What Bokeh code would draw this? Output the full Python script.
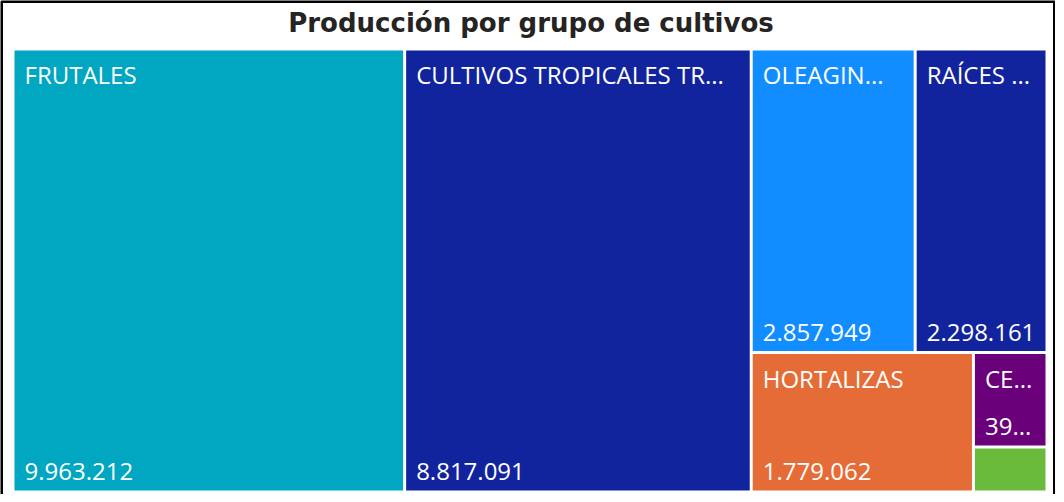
from bokeh.plotting import figure
from bokeh.models import Range1d, ColumnDataSource
from bokeh.core.properties import value
from bokeh.embed import file_html
from bokeh.resources import INLINE

# ---------------- data ----------------
categories = ["FRUTALES", "CULTIVOS TROPICALES TRADICIONALES", "OLEAGINOSAS",
              "RAÍCES Y TUBÉRCULOS", "HORTALIZAS", "CEREALES", "LEGUMINOSAS"]
production = [9963212, 8817091, 2857949, 2298161, 1779062, 399000, 190000]
shown_names = ["FRUTALES", "CULTIVOS TROPICALES TR...", "OLEAGIN...",
               "RAÍCES ...", "HORTALIZAS", "CE...", ""]
shown_values = [None, None, None, None, None, "39...", ""]
colors = ["#01A6C0", "#12239E", "#118DFF", "#12239E", "#E66C37", "#6B007B", "#6ABB3C"]
title_text = "Producción por grupo de cultivos"

# ---------------- layout (squarified treemap, golden ratio) ----------------
PHI = (1 + 5 ** 0.5) / 2


def squarify(vals, x0, y0, x1, y1, ratio=PHI):
    rects = [None] * len(vals)
    n = len(vals)
    i0 = i1 = 0
    total = float(sum(vals))
    while i0 < n:
        dx, dy = x1 - x0, y1 - y0
        sum_v = vals[i1]
        i1 += 1
        min_v = max_v = sum_v
        alpha = max(dy / dx, dx / dy) / (total * ratio)
        beta = sum_v * sum_v * alpha
        min_ratio = max(max_v / beta, beta / min_v)
        while i1 < n:
            nv = vals[i1]
            s = sum_v + nv
            mn, mx = min(min_v, nv), max(max_v, nv)
            beta = s * s * alpha
            new_ratio = max(mx / beta, beta / mn)
            if new_ratio > min_ratio:
                break
            sum_v, min_v, max_v, min_ratio = s, mn, mx, new_ratio
            i1 += 1
        if dx < dy:
            h = dy * sum_v / total
            cx = x0
            for k in range(i0, i1):
                w = dx * vals[k] / sum_v
                rects[k] = (cx, y0, cx + w, y0 + h)
                cx += w
            y0 += h
        else:
            w = dx * sum_v / total
            cy = y0
            for k in range(i0, i1):
                h = dy * vals[k] / sum_v
                rects[k] = (x0, cy, x0 + w, cy + h)
                cy += h
            x0 += w
        total -= sum_v
        i0 = i1
    return rects


W, H = 1055, 494
BOX = (12.5, 48.5, 1046.5, 491.5)
GAP = 1.5
rects = squarify(production, *BOX)

left = [r[0] + GAP for r in rects]
right = [r[2] - GAP for r in rects]
top = [r[1] + GAP for r in rects]
bottom = [r[3] - GAP for r in rects]


def fmt(v):
    return f"{v:,}".replace(",", ".")


value_text = [sv if sv is not None else fmt(v) for sv, v in zip(shown_values, production)]

src = ColumnDataSource(dict(left=left, right=right, top=top, bottom=bottom, color=colors,
                            name=shown_names, val=value_text,
                            tx=[l + 10 for l in left],
                            ny=[t + 24 for t in top],
                            vy=[b - 19 for b in bottom]))

p = figure(width=W, height=H, output_backend="svg", toolbar_location=None,
           x_range=Range1d(0, W), y_range=Range1d(H, 0), min_border=0)
p.axis.visible = False
p.grid.visible = False
p.background_fill_color = "white"
p.border_fill_color = "white"
p.outline_line_color = None

# frame (left, top, right edges; bottom edge lies below the visible area)
p.line(x=[1, 1, W - 1, W - 1], y=[H, 1, 1, H], line_color="black", line_width=3)

p.quad(left="left", right="right", top="top", bottom="bottom", fill_color="color",
       line_color=None, source=src)

p.text(x="tx", y="ny", text="name", source=src, text_color="white",
       text_font=value("Open Sans"), text_font_size="24px",
       text_baseline="alphabetic", text_align="left")
p.text(x="tx", y="vy", text="val", source=src, text_color="white",
       text_font=value("Open Sans"), text_font_size="24px",
       text_baseline="alphabetic", text_align="left")

p.text(x=[530.5], y=[22.5], text=[title_text], text_color="#252423",
       text_font=value("DejaVu Sans"), text_font_style="bold", text_font_size="26px",
       text_baseline="alphabetic", text_align="center")

html = file_html(p, INLINE)
html = html.replace("<body>", '<body style="background-color:#dadada;">', 1)
open("out.html", "w").write(html)
